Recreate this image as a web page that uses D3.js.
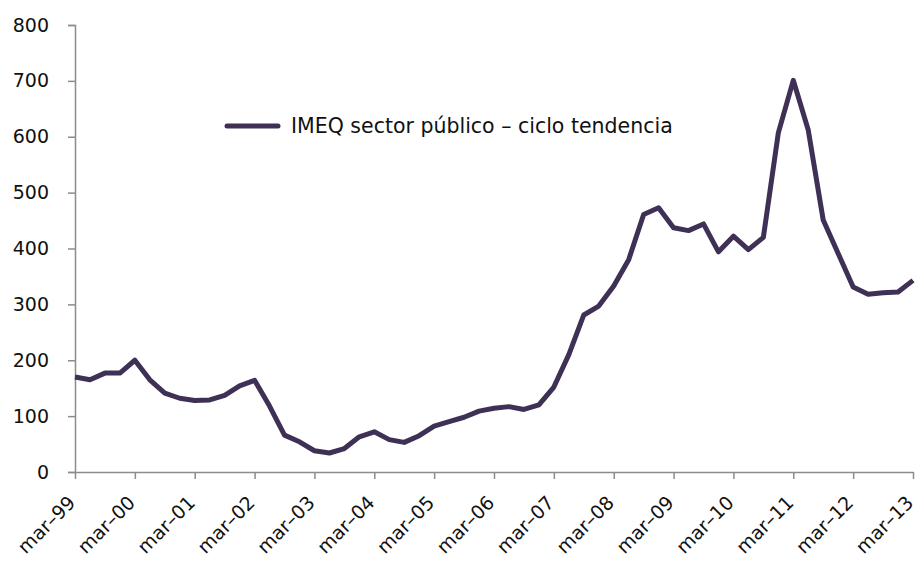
<!DOCTYPE html>
<html>
<head>
<meta charset="utf-8">
<script src="https://cdn.jsdelivr.net/npm/d3@7"></script>
<style>
  body { margin: 0; background: #fff; }
  text { font-family: "DejaVu Sans", sans-serif; fill: #111; }
</style>
</head>
<body>
<svg id="chart" width="916" height="561"></svg>
<script>
// quarterly, mar-99 .. mar-13
var yearLabels = ["mar–99", "mar–00", "mar–01", "mar–02", "mar–03", "mar–04", "mar–05",
  "mar–06", "mar–07", "mar–08", "mar–09", "mar–10", "mar–11", "mar–12", "mar–13"];
var yTicks = [0, 100, 200, 300, 400, 500, 600, 700, 800];
var seriesName = "IMEQ sector público – ciclo tendencia";
var values = [
  170, 165, 177, 177, 200, 165, 141, 132,   // 99-00
  128, 129, 137, 154, 164, 118, 66, 54,     // 01-02
  38, 34, 42, 63, 72, 58, 53, 65,           // 03-04
  82, 90, 98, 109, 114, 117, 112, 120,      // 05-06
  152, 210, 281, 297, 333, 380, 461, 473,   // 07-08
  437, 432, 444, 394, 422, 398, 420, 607,   // 09-10
  701, 612, 451, 391, 331, 318, 321, 322,   // 11-12
  343                                       // 13
];

var svg = d3.select("#chart");
var margin = { left: 75, top: 25 };
var width = 913 - margin.left;
var height = 472 - margin.top;

var g = svg.append("g")
  .attr("transform", "translate(" + margin.left + "," + margin.top + ")");

var x = d3.scaleLinear().domain([0, values.length - 1]).range([0, width]);
var y = d3.scaleLinear().domain([0, 800]).range([height, 0]);

var axisColor = "#8c8c8c";

// y axis
var yAxis = g.append("g")
  .call(d3.axisLeft(y).tickValues(yTicks).tickSize(7).tickPadding(19));
yAxis.select(".domain").attr("stroke", axisColor).attr("stroke-width", 1.5);
yAxis.selectAll(".tick line").attr("stroke", axisColor).attr("stroke-width", 1.5);
yAxis.selectAll(".tick text")
  .style("font-size", "19px")
  .style("font-family", "DejaVu Sans, sans-serif")
  .attr("fill", "#111");

// x axis, one tick per year
var xAxis = g.append("g")
  .attr("transform", "translate(0," + height + ")")
  .call(d3.axisBottom(x)
    .tickValues(d3.range(0, values.length, 4))
    .tickFormat(function (d) { return yearLabels[d / 4]; })
    .tickSize(7)
    .tickSizeOuter(0));
xAxis.select(".domain").attr("stroke", axisColor).attr("stroke-width", 1.5);
xAxis.selectAll(".tick text")
  .style("font-size", "19px")
  .style("font-family", "DejaVu Sans, sans-serif")
  .attr("fill", "#111")
  .attr("text-anchor", "end")
  .attr("y", 0)
  .attr("dy", null)
  .attr("transform", "translate(1,32) rotate(-45)");
xAxis.selectAll(".tick line").attr("stroke", axisColor).attr("stroke-width", 1.5);

// series
var line = d3.line()
  .x(function (d, i) { return x(i); })
  .y(function (d) { return y(d); });

g.append("path")
  .datum(values)
  .attr("fill", "none")
  .attr("stroke", "#3f3055")
  .attr("stroke-width", 5)
  .attr("stroke-linejoin", "round")
  .attr("d", line);

// legend
var legend = svg.append("g").attr("transform", "translate(225,126)");
legend.append("line")
  .attr("x1", 2).attr("x2", 53)
  .attr("stroke", "#3f3055").attr("stroke-width", 5)
  .attr("stroke-linecap", "round");
legend.append("text")
  .attr("x", 66).attr("y", 7)
  .style("font-size", "20.5px")
  .text(seriesName);
</script>
</body>
</html>
